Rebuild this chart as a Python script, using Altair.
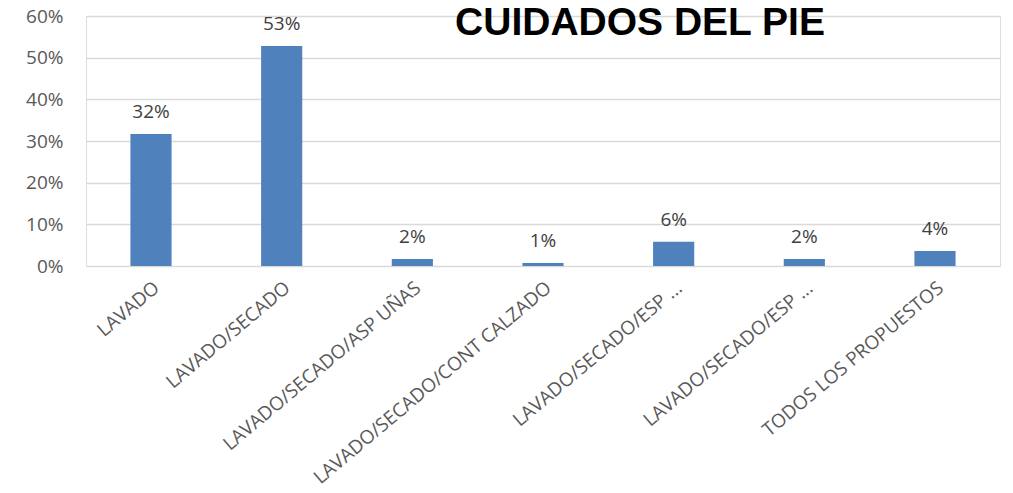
import altair as alt
import pandas as pd

categories = [
    "LAVADO",
    "LAVADO/SECADO",
    "LAVADO/SECADO/ASP UÑAS",
    "LAVADO/SECADO/CONT CALZADO",
    "LAVADO/SECADO/ESP ...",
    "LAVADO/SECADO/ESP ... ",
    "TODOS LOS PROPUESTOS",
]
values = [0.317, 0.528, 0.017, 0.007, 0.058, 0.017, 0.036]

df = pd.DataFrame({"cat": categories, "val": values})

FONT = "Open Sans"

x = alt.X(
    "cat:N",
    sort=None,
    title=None,
    scale=alt.Scale(paddingInner=0.685, paddingOuter=0.34),
    axis=alt.Axis(
        labelAngle=-40,
        labelAlign="right",
        labelBaseline="top",
        labelFontSize=19,
        labelFont=FONT,
        labelColor="#595959",
        labelPadding=12,
        ticks=False,
        domain=False,
        labelLimit=400,
        labelOverlap=False,
    ),
)
y = alt.Y(
    "val:Q",
    title=None,
    scale=alt.Scale(domain=[0, 0.6], nice=False),
    axis=alt.Axis(
        format=".0%",
        values=[0, 0.1, 0.2, 0.3, 0.4, 0.5, 0.6],
        labelFontSize=19,
        labelFont=FONT,
        labelColor="#595959",
        labelPadding=23,
        ticks=False,
        domain=False,
        gridColor="#d9d9d9",
        gridWidth=1.5,
    ),
)

bars = alt.Chart(df).mark_bar(color="#4f81bd").encode(x=x, y=y)
labels = alt.Chart(df).mark_text(
    baseline="bottom", dy=-12, fontSize=19, font=FONT, color="#404040"
).encode(x=alt.X("cat:N", sort=None), y="val:Q", text=alt.Text("val:Q", format=".0%"))

chart = (
    alt.layer(bars, labels)
    .properties(
        width=914,
        height=250,
        autosize=alt.AutoSizeParams(type="none"),
        padding={"left": 86, "top": 16, "right": 13, "bottom": 227},
        title=alt.TitleParams(
            "CUIDADOS DEL PIE",
            font="Liberation Sans",
            fontSize=39,
            fontWeight="bold",
            color="#000000",
            anchor="middle",
            orient="top",
            baseline="middle",
            offset=0,
            dx=97,
            dy=55,
        ),
    )
    .configure_view(strokeWidth=0, stroke="transparent")
    .configure(background="white")
)

chart.save("out.html", embed_options={"renderer": "svg", "actions": False})
